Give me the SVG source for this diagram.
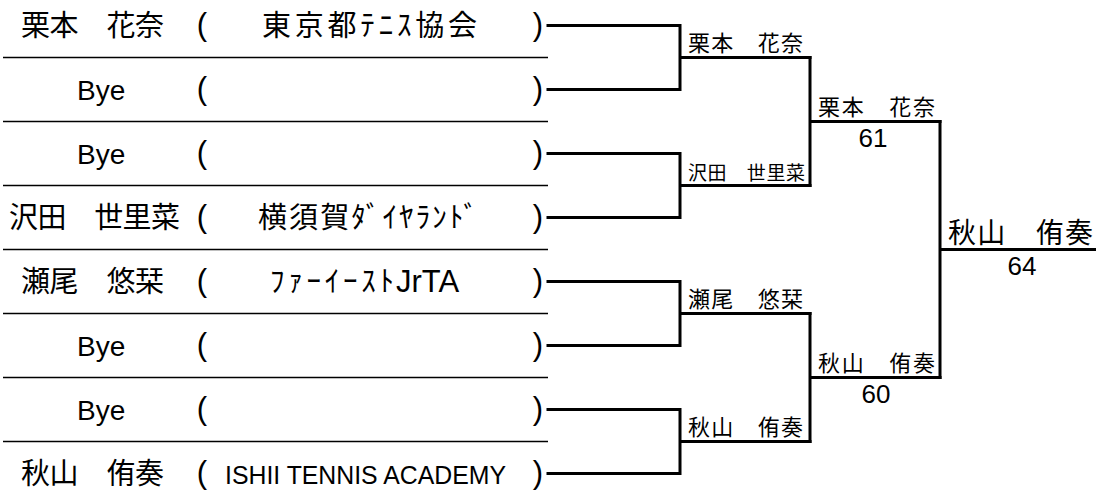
<svg xmlns="http://www.w3.org/2000/svg" width="1096" height="502" viewBox="0 0 1096 502">
<style>
  .jp { font-family: "Noto Sans CJK JP", "Liberation Sans", sans-serif; fill: #000; }
  .lat { font-family: "Liberation Sans", "Noto Sans CJK JP", sans-serif; fill: #000; }
  .n29 { font-size: 29px; }
  .n28 { font-size: 28px; }
  .n22 { font-size: 22px; }
  .n19 { font-size: 19px; }
  .par { font-family: "Liberation Sans", sans-serif; font-size: 31px; text-anchor: middle; fill: #000; }
  .mid { text-anchor: middle; }
  .sep { stroke: #000; stroke-width: 1.3; fill: none; }
  .br { stroke: #000; stroke-width: 3; fill: none; stroke-linecap: square; }
  .score { font-family: "Liberation Sans", sans-serif; font-size: 26px; text-anchor: middle; fill: #000; }
</style>
<rect width="1096" height="502" fill="#fff"/>

<g id="separators">
  <path class="sep" d="M3 57.5H548M3 121.5H548M3 185.5H548M3 249.5H548M3 313.5H548M3 377.5H548M3 441.5H548"/>
</g>

<g id="entrant-1">
  <text class="jp n29" x="21" y="36" textLength="143" lengthAdjust="spacing">栗本　花奈</text>
  <text class="par" x="202" y="35">(</text>
  <text class="jp n29 mid" x="369.5" y="36" textLength="215" lengthAdjust="spacing">東京都ﾃﾆｽ協会</text>
  <text class="par" x="538" y="35">)</text>
</g>
<g id="entrant-2">
  <text class="lat n28" x="77" y="100">Bye</text>
  <text class="par" x="202" y="99">(</text>
  <text class="par" x="538" y="99">)</text>
</g>
<g id="entrant-3">
  <text class="lat n28" x="77" y="164">Bye</text>
  <text class="par" x="202" y="163">(</text>
  <text class="par" x="538" y="163">)</text>
</g>
<g id="entrant-4">
  <text class="jp n29" x="9" y="228" textLength="171" lengthAdjust="spacing">沢田　世里菜</text>
  <text class="par" x="202" y="227">(</text>
  <text class="jp n29 mid" x="368" y="228" textLength="220" lengthAdjust="spacing">横須賀ﾀﾞｲﾔﾗﾝﾄﾞ</text>
  <text class="par" x="538" y="227">)</text>
</g>
<g id="entrant-5">
  <text class="jp n29" x="21" y="292" textLength="143" lengthAdjust="spacing">瀬尾　悠栞</text>
  <text class="par" x="202" y="291">(</text>
  <text class="jp n29" x="270" y="292" textLength="124" lengthAdjust="spacing">ﾌｧｰｲｰｽﾄ</text>
  <text class="lat" x="396" y="292" font-size="31">JrTA</text>
  <text class="par" x="538" y="291">)</text>
</g>
<g id="entrant-6">
  <text class="lat n28" x="77" y="356">Bye</text>
  <text class="par" x="202" y="355">(</text>
  <text class="par" x="538" y="355">)</text>
</g>
<g id="entrant-7">
  <text class="lat n28" x="77" y="420">Bye</text>
  <text class="par" x="202" y="419">(</text>
  <text class="par" x="538" y="419">)</text>
</g>
<g id="entrant-8">
  <text class="jp n29" x="21" y="484" textLength="143" lengthAdjust="spacing">秋山　侑奏</text>
  <text class="par" x="202" y="483">(</text>
  <text class="lat" x="225" y="484" font-size="25" textLength="281" lengthAdjust="spacingAndGlyphs">ISHII TENNIS ACADEMY</text>
  <text class="par" x="538" y="483">)</text>
</g>

<g id="connectors">
  <path class="br" d="M548 25.5H680V89.5H548M680 57.5H810"/>
  <path class="br" d="M548 153.5H680V217.5H548M680 185.5H810"/>
  <path class="br" d="M810 57.5V185.5M810 121.5H940"/>
  <path class="br" d="M548 281.5H680V345.5H548M680 313.5H810"/>
  <path class="br" d="M548 409.5H680V473.5H548M680 441.5H810"/>
  <path class="br" d="M810 313.5V441.5M810 377.5H940"/>
  <path class="br" d="M940 121.5V377.5M940 249.5H1096"/>
</g>

<g id="r1-match-1">
  <text class="jp n22" x="688" y="51" textLength="115" lengthAdjust="spacing">栗本　花奈</text>
</g>
<g id="r1-match-2">
  <text class="jp n19" x="688" y="180" textLength="117" lengthAdjust="spacing">沢田　世里菜</text>
</g>
<g id="r1-match-3">
  <text class="jp n22" x="688" y="307" textLength="115" lengthAdjust="spacing">瀬尾　悠栞</text>
</g>
<g id="r1-match-4">
  <text class="jp n22" x="688" y="435" textLength="115" lengthAdjust="spacing">秋山　侑奏</text>
</g>
<g id="r2-match-1">
  <text class="jp n22" x="818" y="115" textLength="117" lengthAdjust="spacing">栗本　花奈</text>
  <text class="score" x="873" y="147">61</text>
</g>
<g id="r2-match-2">
  <text class="jp n22" x="818" y="371" textLength="117" lengthAdjust="spacing">秋山　侑奏</text>
  <text class="score" x="876" y="403">60</text>
</g>
<g id="final">
  <text class="jp n28" x="948" y="243" textLength="145" lengthAdjust="spacing">秋山　侑奏</text>
  <text class="score" x="1022" y="275" font-size="28">64</text>
</g>
</svg>
